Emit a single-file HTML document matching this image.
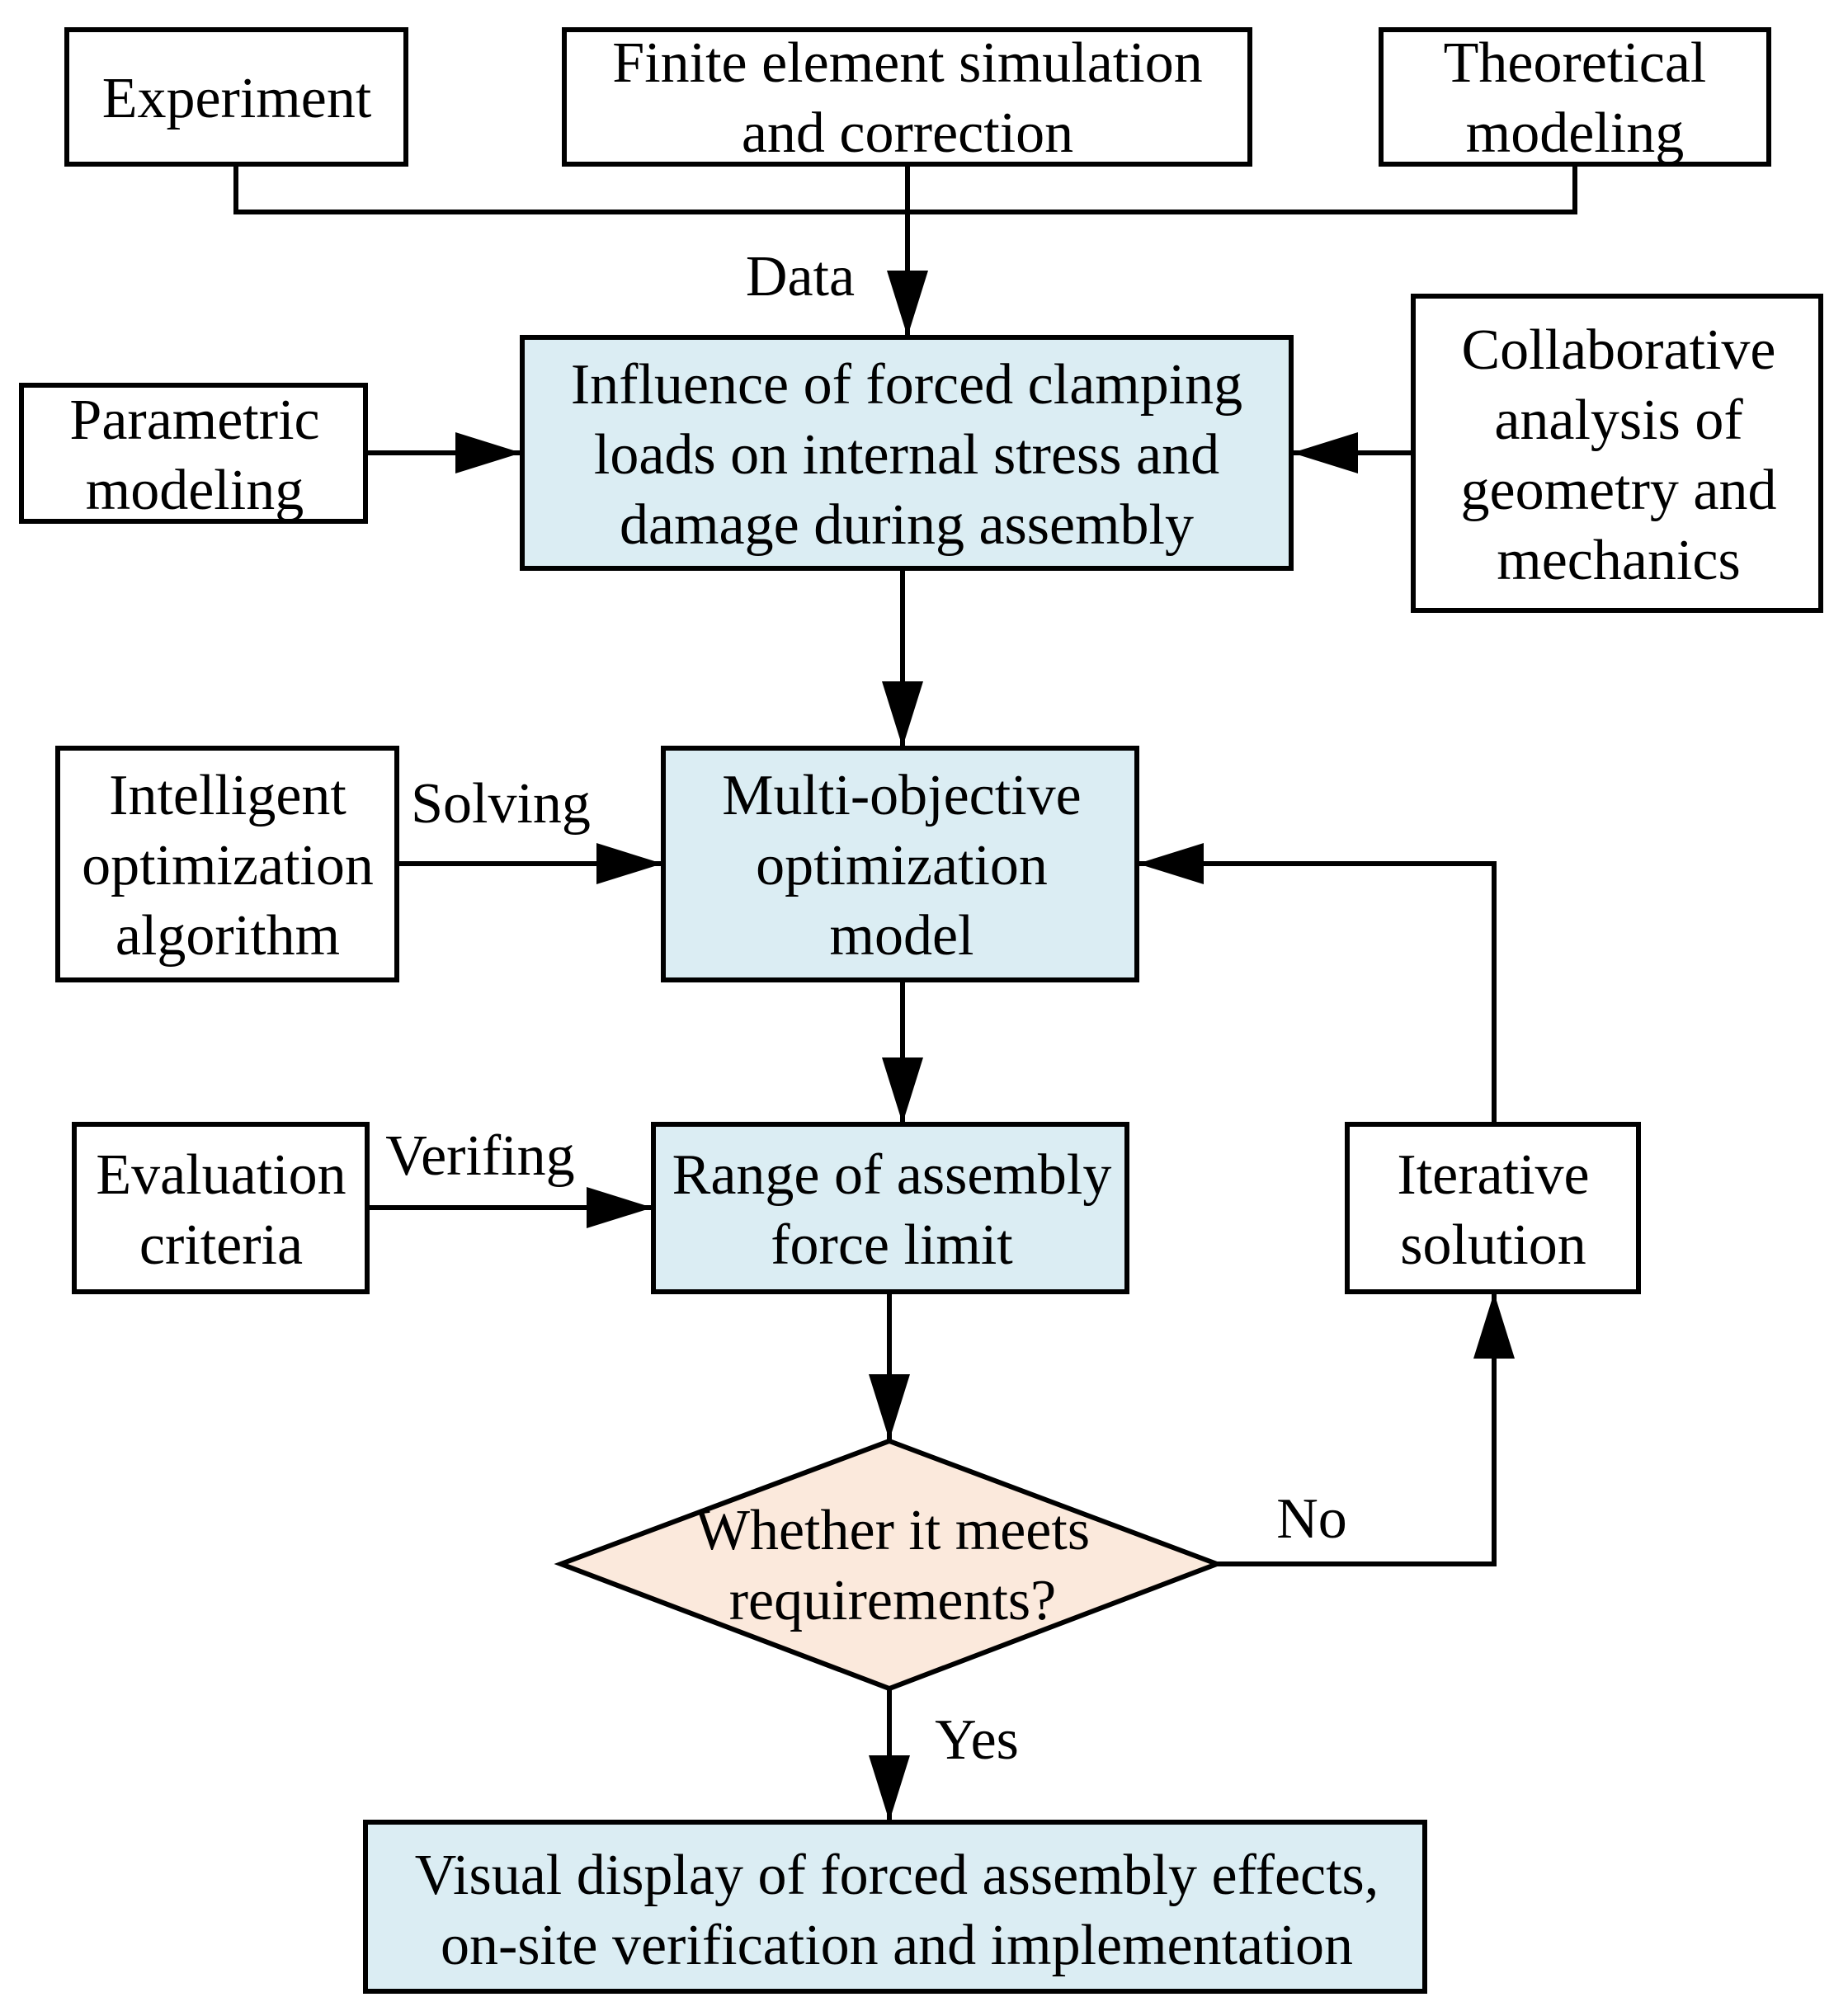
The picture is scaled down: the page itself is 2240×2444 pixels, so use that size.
<!DOCTYPE html>
<html><head><meta charset="utf-8"><style>
html,body{margin:0;padding:0;background:#fff}
svg{display:block}
text{font-family:"Liberation Serif",serif;font-size:70px;fill:#000;text-anchor:middle}
</style></head><body>
<svg width="2240" height="2444" viewBox="0 0 2240 2444" xmlns="http://www.w3.org/2000/svg">
<defs>
<marker id="a" markerWidth="80" markerHeight="50" refX="79" refY="25" orient="auto" markerUnits="userSpaceOnUse">
<path d="M0,0 L80,25 L0,50 Z" fill="#000"/>
</marker>
</defs>
<g stroke="#000" stroke-width="6" fill="none">
<rect x="81" y="36" width="411" height="163" fill="#fff"/>
<rect x="684" y="36" width="831" height="163" fill="#fff"/>
<rect x="1674" y="36" width="470" height="163" fill="#fff"/>
<polyline points="286,199 286,257 1909,257 1909,199"/>
<line x1="1100" y1="199" x2="1100" y2="407" marker-end="url(#a)"/>
<rect x="633" y="409" width="932" height="280" fill="#dbedf3"/>
<rect x="26" y="467" width="417" height="165" fill="#fff"/>
<rect x="1713" y="359" width="494" height="381" fill="#fff"/>
<line x1="443" y1="549" x2="631" y2="549" marker-end="url(#a)"/>
<line x1="1713" y1="549" x2="1567" y2="549" marker-end="url(#a)"/>
<line x1="1094" y1="689" x2="1094" y2="905" marker-end="url(#a)"/>
<rect x="804" y="907" width="574" height="281" fill="#dbedf3"/>
<rect x="70" y="907" width="411" height="281" fill="#fff"/>
<line x1="481" y1="1047" x2="802" y2="1047" marker-end="url(#a)"/>
<line x1="1094" y1="1188" x2="1094" y2="1361" marker-end="url(#a)"/>
<rect x="792" y="1363" width="574" height="203" fill="#dbedf3"/>
<rect x="90" y="1363" width="355" height="203" fill="#fff"/>
<line x1="445" y1="1464" x2="790" y2="1464" marker-end="url(#a)"/>
<rect x="1633" y="1363" width="353" height="203" fill="#fff"/>
<polyline points="1811,1363 1811,1047 1380,1047" marker-end="url(#a)"/>
<line x1="1078" y1="1566" x2="1078" y2="1745" marker-end="url(#a)"/>
<polygon points="1078,1747 1475,1896 1078,2047 680,1896" fill="#fbe9dc"/>
<polyline points="1475,1896 1811,1896 1811,1568" marker-end="url(#a)"/>
<line x1="1078" y1="2047" x2="1078" y2="2207" marker-end="url(#a)"/>
<rect x="443" y="2209" width="1284" height="205" fill="#dbedf3"/>
</g>
<text x="287" y="142">Experiment</text>
<text x="1100" y="99">Finite element simulation</text>
<text x="1100" y="184">and correction</text>
<text x="1909" y="99">Theoretical</text>
<text x="1909" y="184">modeling</text>
<text x="970" y="358">Data</text>
<text x="1099" y="489">Influence of forced clamping</text>
<text x="1099" y="574">loads on internal stress and</text>
<text x="1099" y="659">damage during assembly</text>
<text x="236" y="532">Parametric</text>
<text x="236" y="617">modeling</text>
<text x="1962" y="447">Collaborative</text>
<text x="1962" y="532">analysis of</text>
<text x="1962" y="617">geometry and</text>
<text x="1962" y="702">mechanics</text>
<text x="276" y="987">Intelligent</text>
<text x="276" y="1072">optimization</text>
<text x="276" y="1157">algorithm</text>
<text x="607" y="997">Solving</text>
<text x="1093" y="987">Multi-objective</text>
<text x="1093" y="1072">optimization</text>
<text x="1093" y="1157">model</text>
<text x="268" y="1447">Evaluation</text>
<text x="268" y="1532">criteria</text>
<text x="582" y="1424">Verifing</text>
<text x="1081" y="1447">Range of assembly</text>
<text x="1081" y="1532">force limit</text>
<text x="1810" y="1447">Iterative</text>
<text x="1810" y="1532">solution</text>
<text x="1082" y="1878">Whether it meets</text>
<text x="1082" y="1963">requirements?</text>
<text x="1590" y="1864">No</text>
<text x="1184" y="2132">Yes</text>
<text x="1087" y="2296">Visual display of forced assembly effects,</text>
<text x="1087" y="2381">on-site verification and implementation</text>
</svg>
</body></html>
